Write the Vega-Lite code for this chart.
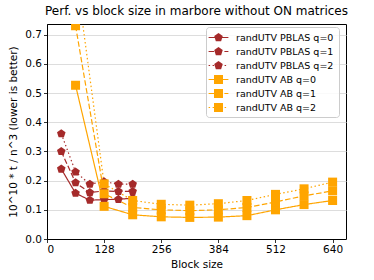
{
  "$schema": "https://vega.github.io/schema/vega-lite/v6.json",
  "width": 299,
  "height": 215,
  "autosize": {"type": "none"},
  "padding": {"left": 47, "top": 24, "right": 28, "bottom": 41},
  "background": "white",
  "title": {"text": "Perf. vs block size in marbore without ON matrices", "font": "DejaVu Sans", "fontSize": 12, "fontWeight": "normal", "color": "#000000", "offset": 6, "anchor": "middle"},
  "config": {
    "view": {"stroke": "#000000", "strokeWidth": 1},
    "axis": {"labelFont": "DejaVu Sans", "titleFont": "DejaVu Sans", "labelFontSize": 10.5, "titleFontSize": 10.5, "titleFontWeight": "normal", "labelColor": "#000000", "titleColor": "#000000", "domainColor": "#000000", "tickColor": "#000000", "tickSize": 3.5, "tickWidth": 0.8, "domainWidth": 1, "gridColor": "#dddddd", "gridWidth": 1, "labelPadding": 2},
    "legend": {"labelFont": "DejaVu Sans", "labelFontSize": 9.5, "labelColor": "#000000", "rowPadding": 4, "symbolSize": 81, "symbolStrokeWidth": 1.2, "symbolOffset": 2, "labelOffset": 12, "padding": 5}
  },
  "data": {"values": [
    {"series": "randUTV PBLAS q=0", "x": 32, "y": 0.24},
    {"series": "randUTV PBLAS q=0", "x": 64, "y": 0.157},
    {"series": "randUTV PBLAS q=0", "x": 96, "y": 0.133},
    {"series": "randUTV PBLAS q=0", "x": 128, "y": 0.135},
    {"series": "randUTV PBLAS q=0", "x": 160, "y": 0.136},
    {"series": "randUTV PBLAS q=0", "x": 192, "y": 0.14},
    {"series": "randUTV PBLAS q=1", "x": 32, "y": 0.30},
    {"series": "randUTV PBLAS q=1", "x": 64, "y": 0.193},
    {"series": "randUTV PBLAS q=1", "x": 96, "y": 0.159},
    {"series": "randUTV PBLAS q=1", "x": 128, "y": 0.165},
    {"series": "randUTV PBLAS q=1", "x": 160, "y": 0.163},
    {"series": "randUTV PBLAS q=1", "x": 192, "y": 0.163},
    {"series": "randUTV PBLAS q=2", "x": 32, "y": 0.361},
    {"series": "randUTV PBLAS q=2", "x": 64, "y": 0.23},
    {"series": "randUTV PBLAS q=2", "x": 96, "y": 0.188},
    {"series": "randUTV PBLAS q=2", "x": 128, "y": 0.196},
    {"series": "randUTV PBLAS q=2", "x": 160, "y": 0.188},
    {"series": "randUTV PBLAS q=2", "x": 192, "y": 0.188},
    {"series": "randUTV AB q=0", "x": 64, "y": 0.527},
    {"series": "randUTV AB q=0", "x": 128, "y": 0.112},
    {"series": "randUTV AB q=0", "x": 192, "y": 0.083},
    {"series": "randUTV AB q=0", "x": 256, "y": 0.076},
    {"series": "randUTV AB q=0", "x": 320, "y": 0.074},
    {"series": "randUTV AB q=0", "x": 384, "y": 0.075},
    {"series": "randUTV AB q=0", "x": 448, "y": 0.08},
    {"series": "randUTV AB q=0", "x": 512, "y": 0.1},
    {"series": "randUTV AB q=0", "x": 576, "y": 0.118},
    {"series": "randUTV AB q=0", "x": 640, "y": 0.132},
    {"series": "randUTV AB q=1", "x": 64, "y": 0.731},
    {"series": "randUTV AB q=1", "x": 128, "y": 0.155},
    {"series": "randUTV AB q=1", "x": 192, "y": 0.108},
    {"series": "randUTV AB q=1", "x": 256, "y": 0.1},
    {"series": "randUTV AB q=1", "x": 320, "y": 0.097},
    {"series": "randUTV AB q=1", "x": 384, "y": 0.1},
    {"series": "randUTV AB q=1", "x": 448, "y": 0.108},
    {"series": "randUTV AB q=1", "x": 512, "y": 0.127},
    {"series": "randUTV AB q=1", "x": 576, "y": 0.148},
    {"series": "randUTV AB q=1", "x": 640, "y": 0.165},
    {"series": "randUTV AB q=2", "x": 64, "y": 0.92},
    {"series": "randUTV AB q=2", "x": 128, "y": 0.189},
    {"series": "randUTV AB q=2", "x": 192, "y": 0.132},
    {"series": "randUTV AB q=2", "x": 256, "y": 0.119},
    {"series": "randUTV AB q=2", "x": 320, "y": 0.116},
    {"series": "randUTV AB q=2", "x": 384, "y": 0.121},
    {"series": "randUTV AB q=2", "x": 448, "y": 0.132},
    {"series": "randUTV AB q=2", "x": 512, "y": 0.153},
    {"series": "randUTV AB q=2", "x": 576, "y": 0.172},
    {"series": "randUTV AB q=2", "x": 640, "y": 0.195}
  ]},
  "encoding": {
    "x": {"field": "x", "type": "quantitative", "title": "Block size",
      "scale": {"domain": [0, 670], "nice": false, "zero": false},
      "axis": {"values": [0, 128, 256, 384, 512, 640], "grid": false, "titlePadding": 4}},
    "y": {"field": "y", "type": "quantitative", "title": "10^10 * t / n^3 (lower is better)",
      "scale": {"domain": [0, 0.737], "nice": false},
      "axis": {"values": [0, 0.1, 0.2, 0.3, 0.4, 0.5, 0.6, 0.7], "format": ".1f", "grid": true, "titlePadding": 6}}
  },
  "resolve": {"scale": {"color": "independent", "shape": "independent", "strokeDash": "independent"}},
  "layer": [
    {
      "mark": {"type": "line", "clip": true, "strokeWidth": 1.2},
      "encoding": {
        "color": {"field": "series", "type": "nominal",
          "scale": {"domain": ["randUTV PBLAS q=0", "randUTV PBLAS q=1", "randUTV PBLAS q=2", "randUTV AB q=0", "randUTV AB q=1", "randUTV AB q=2"],
            "range": ["#a52a2a", "#a52a2a", "#a52a2a", "#ffa500", "#ffa500", "#ffa500"]},
          "legend": {"orient": "none", "legendX": 159, "legendY": 3, "title": null,
            "fillColor": "rgba(255,255,255,0.85)", "strokeColor": "#cccccc", "cornerRadius": 3,
            "symbolType": "M-2.2,0H2.2"}},
        "strokeDash": {"field": "series", "type": "nominal",
          "scale": {"domain": ["randUTV PBLAS q=0", "randUTV PBLAS q=1", "randUTV PBLAS q=2", "randUTV AB q=0", "randUTV AB q=1", "randUTV AB q=2"],
            "range": [[1, 0], [5.5, 2.4], [1.5, 2.5], [1, 0], [5.5, 2.4], [1.5, 2.5]]},
          "legend": {"orient": "none", "legendX": 159, "legendY": 3, "title": null,
            "fillColor": "rgba(255,255,255,0.85)", "strokeColor": "#cccccc", "cornerRadius": 3,
            "symbolType": "M-2.2,0H2.2"}}
      }
    },
    {
      "mark": {"type": "point", "filled": true, "clip": true, "size": 81, "opacity": 1},
      "encoding": {
        "color": {"field": "series", "type": "nominal",
          "scale": {"domain": ["randUTV PBLAS q=0", "randUTV PBLAS q=1", "randUTV PBLAS q=2", "randUTV AB q=0", "randUTV AB q=1", "randUTV AB q=2"],
            "range": ["#a52a2a", "#a52a2a", "#a52a2a", "#ffa500", "#ffa500", "#ffa500"]},
          "legend": {"orient": "none", "legendX": 159, "legendY": 3, "title": null, "labelOpacity": 0}},
        "shape": {"field": "series", "type": "nominal",
          "scale": {"domain": ["randUTV PBLAS q=0", "randUTV PBLAS q=1", "randUTV PBLAS q=2", "randUTV AB q=0", "randUTV AB q=1", "randUTV AB q=2"],
            "range": ["M0,-1L0.951,-0.309L0.588,0.809L-0.588,0.809L-0.951,-0.309Z", "M0,-1L0.951,-0.309L0.588,0.809L-0.588,0.809L-0.951,-0.309Z", "M0,-1L0.951,-0.309L0.588,0.809L-0.588,0.809L-0.951,-0.309Z", "square", "square", "square"]},
          "legend": {"orient": "none", "legendX": 159, "legendY": 3, "title": null, "labelOpacity": 0}}
      }
    }
  ]
}
